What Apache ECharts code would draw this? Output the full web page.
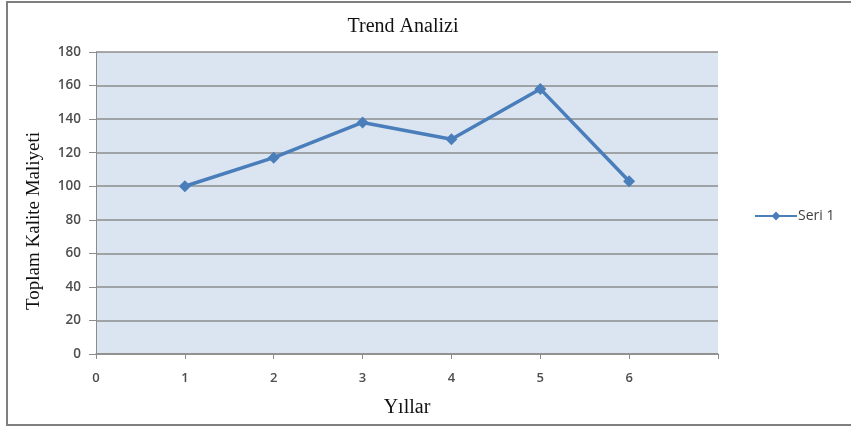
<!DOCTYPE html>
<html>
<head>
<meta charset="utf-8">
<script src="https://cdn.jsdelivr.net/npm/echarts@6/dist/echarts.min.js"></script>
<style>
  html, body { margin: 0; padding: 0; background: #ffffff; }
  #chart { width: 851px; height: 430px; }
</style>
</head>
<body>
<div id="chart"></div>
<script>
// Yearly total quality cost
const years = [1, 2, 3, 4, 5, 6];
const totalCost = [100, 117, 138, 128, 158, 103];
const seriesName = 'Seri 1';
const titleText = 'Trend Analizi';
const xAxisTitle = 'Yıllar';
const yAxisTitle = 'Toplam Kalite Maliyeti';

const chart = echarts.init(document.getElementById('chart'));
const serif = '"Liberation Serif", "DejaVu Serif", serif';
const sans = '"Open Sans", "Liberation Sans", sans-serif';

chart.setOption({
  animation: false,
  backgroundColor: '#ffffff',
  title: {
    text: titleText,
    left: 398,
    top: 12,
    textAlign: 'center',
    textStyle: { fontFamily: serif, fontSize: 20, fontWeight: 'normal', color: '#111111' }
  },
  legend: {
    left: 749,
    top: 204,
    itemWidth: 42,
    itemHeight: 11,
    itemGap: 2,
    textStyle: { fontFamily: sans, fontSize: 14, color: '#404040', padding: [0, 0, 0, -4] },
    data: [seriesName]
  },
  grid: { left: 96, right: 133, top: 52, bottom: 76, show: true, backgroundColor: '#dbe5f1', borderWidth: 0 },
  xAxis: {
    type: 'value',
    min: 0,
    max: 7,
    interval: 1,
    name: xAxisTitle,
    nameLocation: 'middle',
    nameGap: 44,
    nameTextStyle: { fontFamily: serif, fontSize: 20, fontWeight: 'normal', color: '#111111' },
    axisLine: { show: true, lineStyle: { color: '#8c8c8c', width: 1.5 } },
    axisTick: { show: true, length: 5, lineStyle: { color: '#8c8c8c' } },
    axisLabel: {
      margin: 18,
      fontFamily: sans,
      fontSize: 13,
      fontWeight: 600,
      color: '#4d4d4d',
      formatter: v => (v >= 7 ? '' : String(v))
    },
    splitLine: { show: false }
  },
  yAxis: {
    type: 'value',
    min: 0,
    max: 180,
    interval: 20,
    name: yAxisTitle,
    nameLocation: 'middle',
    nameGap: 52,
    nameTextStyle: {
      fontFamily: serif,
      fontSize: 19,
      color: '#111111',
      padding: [0, 36, 0, 0]
    },
    axisLine: { show: true, lineStyle: { color: '#8c8c8c', width: 1 } },
    axisTick: { show: true, length: 7, lineStyle: { color: '#8c8c8c' } },
    axisLabel: {
      margin: 15,
      fontFamily: sans,
      fontSize: 13.5,
      fontWeight: 600,
      color: '#4d4d4d'
    },
    splitLine: { show: true, lineStyle: { color: '#8c8c8c', width: 1.5 } }
  },
  graphic: [{
    type: 'rect',
    shape: { x: 7, y: 2, width: 860, height: 423 },
    style: { fill: 'none', stroke: '#7f7f7f', lineWidth: 2 },
    silent: true,
    z: 100
  }],
  series: [{
    name: seriesName,
    type: 'line',
    data: years.map((y, i) => [y, totalCost[i]]),
    symbol: 'diamond',
    symbolSize: 12,
    lineStyle: { color: '#4a7ebb', width: 3.5 },
    itemStyle: { color: '#4a7ebb' }
  }]
});
</script>
</body>
</html>
